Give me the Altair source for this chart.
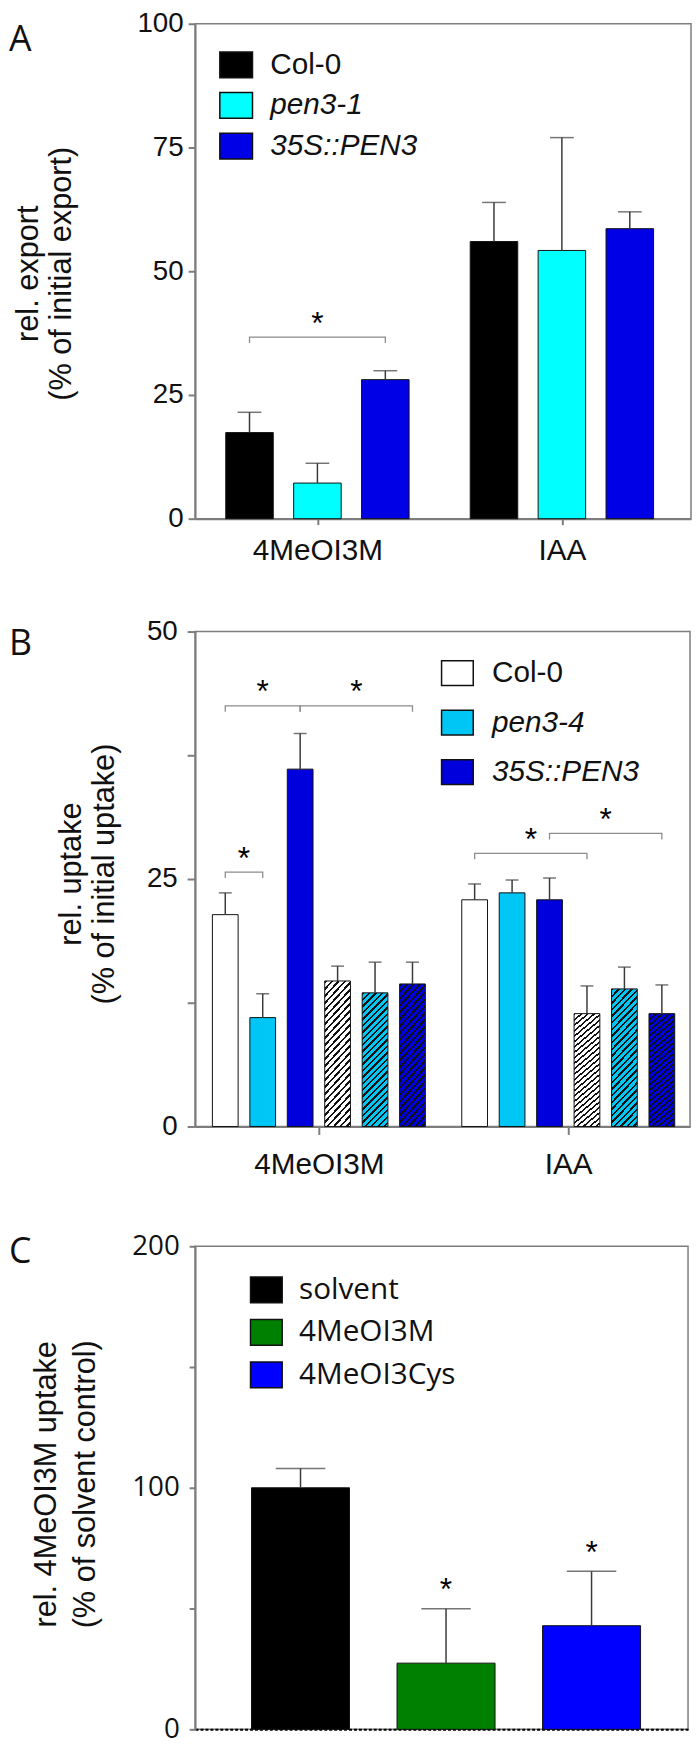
import json
import altair as alt
import pandas as pd

# ---------------- Panel A : relative export ----------------
A_COMPOUNDS = ["4MeOI3M", "IAA"]
A_GENOTYPES = ["Col-0", "pen3-1", "35S::PEN3"]
A_COLORS = ["#000000", "#00FFFF", "#0000E6"]
A_MEAN_4MEOI3M = [17.4, 7.2, 28.1]
A_MEAN_IAA = [56.0, 54.2, 58.6]
A_SEM_4MEOI3M = [4.1, 4.0, 1.8]
A_SEM_IAA = [7.9, 22.8, 3.4]
A_BRACKET_COMPOUND = ["4MeOI3M"]
A_BRACKET_FROM = ["Col-0"]
A_BRACKET_TO = ["35S::PEN3"]
A_BRACKET_LEVEL = [36.7]

# ---------------- Panel B : relative uptake ----------------
B_COMPOUNDS = ["4MeOI3M", "IAA"]
B_GENOTYPES = ["Col-0", "pen3-4", "35S::PEN3"]
B_CONDITIONS = ["open", "hatched"]
B_COLORS = ["#FFFFFF", "#00C6F5", "#0000DD"]
B_MEAN_4MEOI3M_OPEN = [21.4, 11.0, 36.1]
B_MEAN_4MEOI3M_HATCHED = [14.7, 13.5, 14.4]
B_MEAN_IAA_OPEN = [22.9, 23.6, 22.9]
B_MEAN_IAA_HATCHED = [11.4, 13.9, 11.4]
B_SEM_4MEOI3M_OPEN = [2.2, 2.4, 3.6]
B_SEM_4MEOI3M_HATCHED = [1.5, 3.1, 2.2]
B_SEM_IAA_OPEN = [1.6, 1.3, 2.2]
B_SEM_IAA_HATCHED = [2.8, 2.2, 2.9]
B_BRACKET_COMPOUND = ["4MeOI3M", "4MeOI3M", "4MeOI3M", "IAA", "IAA"]
B_BRACKET_FROM = ["Col-0 | open", "Col-0 | open", "35S::PEN3 | open", "Col-0 | open", "35S::PEN3 | open"]
B_BRACKET_TO = ["pen3-4 | open", "35S::PEN3 | open", "35S::PEN3 | hatched", "Col-0 | hatched", "35S::PEN3 | hatched"]
B_BRACKET_LEVEL = [25.7, 42.5, 42.5, 27.6, 29.6]

# ---------------- Panel C : 4MeOI3M uptake ----------------
C_TREATMENTS = ["solvent", "4MeOI3M", "4MeOI3Cys"]
C_COLORS = ["#000000", "#008000", "#0000FF"]
C_MEAN = [100.0, 27.4, 42.9]
C_SEM = [8.0, 22.5, 22.5]
C_SIGNIFICANT = [False, True, True]

PANEL_LETTERS = ["A", "B", "C"]
A_YTITLE = ["rel. export", "(% of initial export)"]
B_YTITLE = ["rel. uptake", "(% of initial uptake)"]
C_YTITLE = ["rel. 4MeOI3M uptake", "(% of solvent control)"]

# ---------------- layout / styling ----------------
SANS = "Liberation Sans"
GREY = "#7d7d7d"
INK = "#111111"
ERR = "#3a3a3a"
A_GROUP_STEP = 3.6      # distance between the two compound groups, in bar slots
B_GROUP_STEP = 6.66
A_X_DOMAIN = [-0.7286, 6.4286]
B_X_DOMAIN = [-0.674, 12.28]

B_SLOTS = [f"{g} | {c}" for c in B_CONDITIONS for g in B_GENOTYPES]

# ---------------- tables ----------------
dfA = pd.DataFrame({
    "compound": [c for c in A_COMPOUNDS for _ in A_GENOTYPES],
    "genotype": A_GENOTYPES * len(A_COMPOUNDS),
    "mean": A_MEAN_4MEOI3M + A_MEAN_IAA,
    "sem": A_SEM_4MEOI3M + A_SEM_IAA,
})

b_means = {("4MeOI3M", "open"): B_MEAN_4MEOI3M_OPEN, ("4MeOI3M", "hatched"): B_MEAN_4MEOI3M_HATCHED,
           ("IAA", "open"): B_MEAN_IAA_OPEN, ("IAA", "hatched"): B_MEAN_IAA_HATCHED}
b_sems = {("4MeOI3M", "open"): B_SEM_4MEOI3M_OPEN, ("4MeOI3M", "hatched"): B_SEM_4MEOI3M_HATCHED,
          ("IAA", "open"): B_SEM_IAA_OPEN, ("IAA", "hatched"): B_SEM_IAA_HATCHED}
rows = []
for comp in B_COMPOUNDS:
    for cond in B_CONDITIONS:
        for i, g in enumerate(B_GENOTYPES):
            rows.append({"compound": comp, "condition": cond, "genotype": g,
                         "slot": f"{g} | {cond}",
                         "mean": b_means[(comp, cond)][i], "sem": b_sems[(comp, cond)][i]})
dfB = pd.DataFrame(rows)

dfC = pd.DataFrame({"treatment": C_TREATMENTS, "mean": C_MEAN, "sem": C_SEM, "sig": C_SIGNIFICANT})


def bracket_lines(comps, frm, to, levels, drop, slot_field):
    out = []
    for k, (c, f, t, lv) in enumerate(zip(comps, frm, to, levels)):
        for o, (s, y) in enumerate([(f, lv - drop), (f, lv), (t, lv), (t, lv - drop)]):
            out.append({"bracket": k, "compound": c, slot_field: s, "y": y, "o": o})
    return pd.DataFrame(out)


def bracket_stars(comps, frm, to, levels):
    return pd.DataFrame({"compound": comps, "from": frm, "to": to, "y": levels})


def pos_expr(groups, slots, step, slot_expr):
    return f"indexof({json.dumps(groups)}, datum.compound) * {step} + indexof({json.dumps(slots)}, {slot_expr})"


def hatch(color, W=26.0, H0=135.0, period=6.5, ink=2.4):
    L = W + H0
    k = L / (W * W + H0 * H0)
    stops = []
    c = 0.0
    while c < L - 1e-9:
        a = c / L
        b = min((c + ink) / L, 1.0)
        e = min((c + period) / L, 1.0)
        stops += [alt.GradientStop(offset=round(a, 5), color=INK),
                  alt.GradientStop(offset=round(b, 5), color=INK),
                  alt.GradientStop(offset=round(b, 5), color=color),
                  alt.GradientStop(offset=round(e, 5), color=color)]
        c += period
    return alt.LinearGradient(gradient="linear", stops=stops, x1=0, y1=0,
                              x2=round(k * W, 5), y2=round(k * H0, 5))


def rect_legend(x, y, w, h, row_pad, label_off, size, font, italic):
    r = round(h / w, 4)
    kw = dict(title=None, orient="none", legendX=x, legendY=y,
              symbolType=f"M-1,-{r}H1V{r}H-1Z", symbolSize=w * w,
              symbolStrokeColor=INK, symbolStrokeWidth=1.5, symbolOpacity=1,
              labelFont=font, labelFontSize=size, labelColor=INK, labelOffset=label_off,
              rowPadding=row_pad, padding=0, labelLimit=400)
    if italic:
        kw["labelFontStyle"] = alt.ExprRef(expr="datum.label == 'Col-0' ? 'normal' : 'italic'")
    return alt.Legend(**kw)


def letter(idx, x, y):
    return alt.Chart(pd.DataFrame({"panel": [PANEL_LETTERS[idx]]})).mark_text(
        align="left", baseline="top", font="Open Sans", fontSize=36, color=INK
    ).encode(text="panel:N", x=alt.value(x), y=alt.value(y))


def side_title_lines(lines, x_first, y, lh):
    layers = []
    for i, line in enumerate(lines):
        layers.append(alt.Chart(pd.DataFrame({"line": [line]})).mark_text(
            angle=270, align="center", baseline="middle",
            font=SANS, fontSize=31, color=INK
        ).encode(text="line:N", x=alt.value(x_first + i * lh), y=alt.value(y)))
    return layers


def y_axis(values, title, tx, ty, lh, tick, pad, label_expr=None, label_font=SANS):
    kw = dict(values=values, tickSize=tick, labelPadding=pad, labelFont=label_font, labelFontSize=28)
    if title is None:
        kw["title"] = None
    else:
        kw.update(title=title, titleX=tx, titleY=ty, titleAngle=270, titleAlign="center",
                  titleBaseline="middle", titleLineHeight=lh, titleFontSize=31)
    if label_expr:
        kw["labelExpr"] = label_expr
    return alt.Axis(**kw)


def group_axis(groups, step, first_center, tick, pad):
    centers = [round(first_center + i * step, 4) for i in range(len(groups))]
    return alt.Axis(values=centers, title=None, labelAngle=0, tickSize=tick, labelPadding=pad,
                    labelFontSize=30, grid=False,
                    labelExpr=f"{json.dumps(groups)}[round((datum.value - {first_center}) / {step})]")


# ================= Panel A =================
xA_scale = alt.Scale(domain=A_X_DOMAIN, nice=False, zero=False)
xA_axis = group_axis(A_COMPOUNDS, A_GROUP_STEP, 1, 6, 11)
yA_scale = alt.Scale(domain=[0, 100], nice=False)
yA_axis = y_axis([0, 25, 50, 75, 100], A_YTITLE, -168, 252, 33, 7, 5)
A_POS = pos_expr(A_COMPOUNDS, A_GENOTYPES, A_GROUP_STEP, "datum.genotype")


def xA(field="pos:Q"):
    return alt.X(field, scale=xA_scale, axis=xA_axis)


def yA(field):
    return alt.Y(field, scale=yA_scale, axis=yA_axis)


baseA = alt.Chart(dfA).transform_calculate(pos=A_POS, top="datum.mean + datum.sem")
barsA = baseA.mark_bar(width=48, stroke=INK, strokeWidth=1).encode(
    x=xA(), y=yA("mean:Q"),
    fill=alt.Fill("genotype:N", sort=A_GENOTYPES, scale=alt.Scale(domain=A_GENOTYPES, range=A_COLORS),
                  legend=rect_legend(24, 24, 33, 26, 7, 17, 30, SANS, True)),
)
errA = baseA.mark_rule(color=ERR, strokeWidth=1.5).encode(x=xA(), y=yA("mean:Q"), y2="top:Q")
capA = baseA.mark_tick(color=ERR, thickness=1.5, size=24, orient="horizontal").encode(x=xA(), y=yA("top:Q"))
brA = alt.Chart(bracket_lines(A_BRACKET_COMPOUND, A_BRACKET_FROM, A_BRACKET_TO, A_BRACKET_LEVEL, 1.2, "genotype")
                ).transform_calculate(pos=A_POS).mark_line(color="#8c8c8c", strokeWidth=1.3).encode(
    x=xA(), y=yA("y:Q"), detail="bracket:N", order="o:Q")
stA = alt.Chart(bracket_stars(A_BRACKET_COMPOUND, A_BRACKET_FROM, A_BRACKET_TO, A_BRACKET_LEVEL)
                ).transform_calculate(
    p0=pos_expr(A_COMPOUNDS, A_GENOTYPES, A_GROUP_STEP, "datum['from']"),
    p1=pos_expr(A_COMPOUNDS, A_GENOTYPES, A_GROUP_STEP, "datum['to']"),
).transform_calculate(pos="(datum.p0 + datum.p1) / 2").mark_text(
    text="*", font=SANS, fontSize=32, baseline="alphabetic", dy=-3.5, color="#000").encode(
    x=xA(), y=yA("y:Q"))

panelA = alt.layer(barsA, errA, capA, brA, stA, letter(0, -188, 0)).properties(width=501, height=500)

# ================= Panel B =================
xB_scale = alt.Scale(domain=B_X_DOMAIN, nice=False, zero=False)
xB_axis = group_axis(B_COMPOUNDS, B_GROUP_STEP, 2.5, 8, 16)
yB_scale = alt.Scale(domain=[0, 50], nice=False)
yB_axis = y_axis([0, 12.5, 25, 37.5, 50], None, 0, 0, 0, 8, 10, "datum.value % 25 == 0 ? datum.label : ''")
B_POS = pos_expr(B_COMPOUNDS, B_SLOTS, B_GROUP_STEP, "datum.slot")


def xB(field="pos:Q"):
    return alt.X(field, scale=xB_scale, axis=xB_axis)


def yB(field):
    return alt.Y(field, scale=yB_scale, axis=yB_axis)


baseB = alt.Chart(dfB).transform_calculate(pos=B_POS, top="datum.mean + datum.sem")
barsB = baseB.transform_filter("datum.condition == 'open'").mark_bar(
    width=26, stroke=INK, strokeWidth=1).encode(
    x=xB(), y=yB("mean:Q"),
    fill=alt.Fill("genotype:N", sort=B_GENOTYPES, scale=alt.Scale(domain=B_GENOTYPES, range=B_COLORS),
                  legend=rect_legend(248, 25, 32, 25, 17, 18, 30, SANS, True)),
)
hatched_layers = []
for g, col in zip(B_GENOTYPES, B_COLORS):
    hatched_layers.append(
        baseB.transform_filter(
            f"datum.condition == 'hatched' && datum.genotype == '{g}'").mark_bar(
            width=26, fill=hatch(col), stroke=INK, strokeWidth=1).encode(x=xB(), y=yB("mean:Q")))
errB = baseB.mark_rule(color=ERR, strokeWidth=1.5).encode(x=xB(), y=yB("mean:Q"), y2="top:Q")
capB = baseB.mark_tick(color=ERR, thickness=1.5, size=13, orient="horizontal").encode(x=xB(), y=yB("top:Q"))
brB = alt.Chart(bracket_lines(B_BRACKET_COMPOUND, B_BRACKET_FROM, B_BRACKET_TO, B_BRACKET_LEVEL, 0.6, "slot")
                ).transform_calculate(pos=B_POS).mark_line(color="#8c8c8c", strokeWidth=1.3).encode(
    x=xB(), y=yB("y:Q"), detail="bracket:N", order="o:Q")
stB = alt.Chart(bracket_stars(B_BRACKET_COMPOUND, B_BRACKET_FROM, B_BRACKET_TO, B_BRACKET_LEVEL)
                ).transform_calculate(
    p0=pos_expr(B_COMPOUNDS, B_SLOTS, B_GROUP_STEP, "datum['from']"),
    p1=pos_expr(B_COMPOUNDS, B_SLOTS, B_GROUP_STEP, "datum['to']"),
).transform_calculate(pos="(datum.p0 + datum.p1) / 2").mark_text(
    text="*", font=SANS, fontSize=32, baseline="alphabetic", dy=-3.5, color="#000").encode(
    x=xB(), y=yB("y:Q"))

panelB = alt.layer(barsB, *hatched_layers, errB, capB, brB, stB,
                   *side_title_lines(B_YTITLE, -124, 245, 33),
                   letter(1, -188, -4)).properties(width=500, height=500)

# ================= Panel C =================
xC_scale = alt.Scale(type="band", domain=C_TREATMENTS, paddingInner=0.3265, paddingOuter=0.357, align=0.543)
xC_axis = alt.Axis(title=None, labels=False, ticks=False, domainColor="#000000",
                   domainDash=[3, 2], domainWidth=2)
xC = alt.X("treatment:N", sort=C_TREATMENTS, scale=xC_scale, axis=xC_axis)
yC_scale = alt.Scale(domain=[0, 200], nice=False)
yC_axis = y_axis([0, 50, 100, 150, 200], C_YTITLE, -150, 240, 39, 6, 10,
                 "datum.value % 100 == 0 ? datum.label : ''", "Open Sans")


def yC(field):
    return alt.Y(field, scale=yC_scale, axis=yC_axis)


barsC = alt.Chart(dfC).mark_bar(stroke=INK, strokeWidth=1).encode(
    x=xC, y=yC("mean:Q"),
    fill=alt.Fill("treatment:N", sort=C_TREATMENTS, scale=alt.Scale(domain=C_TREATMENTS, range=C_COLORS),
                  legend=rect_legend(55, 27, 32, 26, 10, 16, 30, "Open Sans", False)),
)
errC = alt.Chart(dfC).transform_calculate(top="datum.mean + datum.sem").mark_rule(
    color=ERR, strokeWidth=1.5).encode(x=xC, y=yC("mean:Q"), y2="top:Q")
capC = alt.Chart(dfC).transform_calculate(top="datum.mean + datum.sem").mark_tick(
    color=ERR, thickness=1.5, size=50, orient="horizontal").encode(x=xC, y=yC("top:Q"))
stC = alt.Chart(dfC).transform_filter("datum.sig").transform_calculate(
    top="datum.mean + datum.sem").mark_text(
    text="*", font=SANS, fontSize=32, baseline="alphabetic", dy=-8.4, color="#000").encode(
    x=xC, y=yC("top:Q"))

panelC = alt.layer(barsC, errC, capC, stC, letter(2, -188, -11)).properties(width=498, height=488)

chart = alt.concat(panelA, panelB, panelC, columns=1, spacing=51).resolve_scale(
    fill="independent"
).properties(padding={"top": -8, "left": 0, "right": 0, "bottom": 0}).configure_view(
    stroke=GREY, strokeWidth=1.5
).configure_axis(
    domainColor=GREY, domainWidth=2, tickColor=GREY, tickWidth=2, grid=False,
    labelFont=SANS, labelFontSize=28, labelColor=INK,
    titleFont=SANS, titleFontWeight="normal", titleColor=INK,
)

chart.save("out.html", embed_options={"renderer": "svg", "actions": False})
